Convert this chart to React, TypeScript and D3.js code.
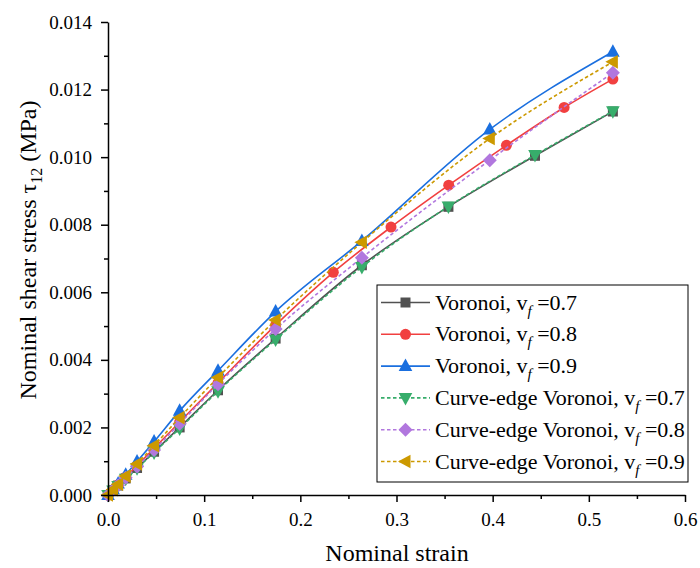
import React, { useEffect, useRef } from "react";
import * as d3 from "d3";

// Strain values (x) for each series
const strainV07 = [0, 0.00525, 0.0105, 0.0184, 0.0302, 0.0479, 0.0745, 0.1144, 0.1743, 0.264, 0.354, 0.444, 0.525];
const strainV08 = [0, 0.00525, 0.0105, 0.0184, 0.0302, 0.0479, 0.0745, 0.1144, 0.1743, 0.2343, 0.2943, 0.3543, 0.4143, 0.4743, 0.525];
const strainV09 = [0, 0.00525, 0.0105, 0.0184, 0.0302, 0.0479, 0.0745, 0.1144, 0.1743, 0.264, 0.397, 0.525];

// Stress values (y, MPa)
const voronoi07 = [0, 0.00014, 0.00028, 0.00049, 0.0008, 0.00128, 0.002, 0.0031, 0.00463, 0.0068, 0.00853, 0.01004, 0.01135];
const voronoi08 = [0, 0.00015, 0.0003, 0.00053, 0.00087, 0.00138, 0.00216, 0.00332, 0.00503, 0.00659, 0.00793, 0.00917, 0.01035, 0.01147, 0.01231];
const voronoi09 = [0, 0.00017, 0.00034, 0.0006, 0.00099, 0.00158, 0.00249, 0.00368, 0.00543, 0.00752, 0.01082, 0.01312];
const curve07 = [0, 0.00013, 0.00027, 0.00048, 0.00079, 0.00126, 0.00197, 0.00307, 0.0046, 0.00675, 0.00854, 0.01006, 0.01136];
const curve08 = [0, 0.00015, 0.00029, 0.00051, 0.00084, 0.00133, 0.00211, 0.00328, 0.00491, 0.00702, 0.00991, 0.0125];
const curve09 = [0, 0.00016, 0.00032, 0.00056, 0.00092, 0.00146, 0.00229, 0.00348, 0.00518, 0.00748, 0.01055, 0.01282];

const seriesNames = ["Voronoi, v", "Voronoi, v", "Voronoi, v", "Curve-edge Voronoi, v", "Curve-edge Voronoi, v", "Curve-edge Voronoi, v"];
const seriesFractions = ["0.7", "0.8", "0.9", "0.7", "0.8", "0.9"];
const seriesColors = ["#515151", "#F14040", "#1A6FDF", "#37AD6B", "#B177DE", "#CC9900"];
const seriesMarkers = ["square", "circle", "triUp", "triDown", "diamond", "triLeft"];
const seriesDashed = [false, false, false, true, true, true];

const xTicks = [0, 0.1, 0.2, 0.3, 0.4, 0.5, 0.6];
const xMinorTicks = [0.05, 0.15, 0.25, 0.35, 0.45, 0.55];
const yTicks = [0, 0.002, 0.004, 0.006, 0.008, 0.01, 0.012, 0.014];
const yMinorTicks = [0.001, 0.003, 0.005, 0.007, 0.009, 0.011, 0.013];

const FONT = "'Liberation Serif', 'Times New Roman', serif";

function markerPath(type: string): string | null {
  switch (type) {
    case "square":
      return "M-5,-5L5,-5L5,5L-5,5Z";
    case "triUp":
      return "M0,-7.5L6.8,5L-6.8,5Z";
    case "triDown":
      return "M0,7.5L6.8,-5L-6.8,-5Z";
    case "triLeft":
      return "M-7.5,0L5,-6.8L5,6.8Z";
    case "diamond":
      return "M0,-7L7,0L0,7L-7,0Z";
    default:
      return null;
  }
}

export default function App() {
  const ref = useRef<SVGSVGElement | null>(null);

  useEffect(() => {
    const svg = d3.select(ref.current);
    svg.selectAll("*").remove();

    const x = d3.scaleLinear().domain([0, 0.6]).range([108, 685]);
    const y = d3.scaleLinear().domain([0, 0.014]).range([495, 22]);

    const xs = [strainV07, strainV08, strainV09, strainV07, strainV09, strainV09];
    const ys = [voronoi07, voronoi08, voronoi09, curve07, curve08, curve09];

    const line = d3
      .line<[number, number]>()
      .x((d) => x(d[0]))
      .y((d) => y(d[1]))
      .curve(d3.curveMonotoneX);

    const plot = svg.append("g");
    ys.forEach((yv, i) => {
      const pts: [number, number][] = yv.map((v, k) => [xs[i][k], v]);
      const g = plot.append("g");
      g.append("path")
        .attr("d", line(pts) as string)
        .attr("fill", "none")
        .attr("stroke", seriesColors[i])
        .attr("stroke-width", 1.6)
        .attr("stroke-dasharray", seriesDashed[i] ? "3.5,2.5" : null);
      pts.forEach((p) => {
        const type = seriesMarkers[i];
        const mp = markerPath(type);
        if (mp) {
          g.append("path")
            .attr("d", mp)
            .attr("transform", `translate(${x(p[0])},${y(p[1])})`)
            .attr("fill", seriesColors[i]);
        } else {
          g.append("circle")
            .attr("cx", x(p[0]))
            .attr("cy", y(p[1]))
            .attr("r", 5.5)
            .attr("fill", seriesColors[i]);
        }
      });
    });

    // Axes
    const xAxis = svg
      .append("g")
      .attr("transform", "translate(0,495)")
      .call(
        d3
          .axisBottom(x)
          .tickValues(xTicks)
          .tickSize(7)
          .tickSizeOuter(0)
          .tickPadding(11)
          .tickFormat(d3.format(".1f") as any)
      );
    xAxis.select(".domain").attr("stroke", "#000").attr("stroke-width", 1.5);
    xAxis.selectAll(".tick line").attr("stroke", "#000").attr("stroke-width", 1.5);
    xAxis.selectAll("text").attr("font-family", FONT).attr("font-size", 19).attr("fill", "#000");
    svg
      .append("g")
      .attr("transform", "translate(0,495)")
      .call(d3.axisBottom(x).tickValues(xMinorTicks).tickSize(4).tickFormat(() => ""))
      .call((g) => g.select(".domain").remove())
      .selectAll("line")
      .attr("stroke", "#000")
      .attr("stroke-width", 1.5);

    const yAxis = svg
      .append("g")
      .attr("transform", "translate(108,0)")
      .call(
        d3
          .axisLeft(y)
          .tickValues(yTicks)
          .tickSize(7)
          .tickSizeOuter(0)
          .tickPadding(9)
          .tickFormat(d3.format(".3f") as any)
      );
    yAxis.select(".domain").attr("stroke", "#000").attr("stroke-width", 1.5);
    yAxis.selectAll(".tick line").attr("stroke", "#000").attr("stroke-width", 1.5);
    yAxis.selectAll("text").attr("font-family", FONT).attr("font-size", 19).attr("fill", "#000");
    svg
      .append("g")
      .attr("transform", "translate(108,0)")
      .call(d3.axisLeft(y).tickValues(yMinorTicks).tickSize(4).tickFormat(() => ""))
      .call((g) => g.select(".domain").remove())
      .selectAll("line")
      .attr("stroke", "#000")
      .attr("stroke-width", 1.5);

    // Axis titles
    svg
      .append("text")
      .attr("x", 397)
      .attr("y", 561)
      .attr("text-anchor", "middle")
      .attr("font-family", FONT)
      .attr("font-size", 24)
      .text("Nominal strain");

    const yt = svg
      .append("text")
      .attr("transform", "translate(36,250) rotate(-90)")
      .attr("text-anchor", "middle")
      .attr("font-family", FONT)
      .attr("font-size", 24);
    yt.append("tspan").text("Nominal shear stress \u03C4");
    yt.append("tspan").attr("font-size", 16).attr("dy", 6).text("12");
    yt.append("tspan").attr("dy", -6).text(" (MPa)");

    // Legend
    const lg = svg.append("g");
    lg.append("rect")
      .attr("x", 377)
      .attr("y", 285)
      .attr("width", 311)
      .attr("height", 197)
      .attr("fill", "#fff")
      .attr("stroke", "#000")
      .attr("stroke-width", 1);
    seriesNames.forEach((name, i) => {
      const cy = 302.5 + i * 31.8;
      lg.append("line")
        .attr("x1", 381)
        .attr("x2", 430)
        .attr("y1", cy)
        .attr("y2", cy)
        .attr("stroke", seriesColors[i])
        .attr("stroke-width", 1.6)
        .attr("stroke-dasharray", seriesDashed[i] ? "3.5,2.5" : null);
      const mp = markerPath(seriesMarkers[i]);
      if (mp) {
        lg.append("path").attr("d", mp).attr("transform", `translate(405.5,${cy})`).attr("fill", seriesColors[i]);
      } else {
        lg.append("circle").attr("cx", 405.5).attr("cy", cy).attr("r", 5.5).attr("fill", seriesColors[i]);
      }
      const t = lg
        .append("text")
        .attr("x", 435)
        .attr("y", cy + 7)
        .attr("font-family", FONT)
        .attr("font-size", 22)
        .attr("fill", "#000");
      t.append("tspan").text(name);
      t.append("tspan").attr("font-style", "italic").attr("font-size", 15).attr("dy", 6).text("f");
      t.append("tspan").attr("dy", -6).text(" =" + seriesFractions[i]);
    });
  }, []);

  return (
    <svg
      ref={ref}
      width={700}
      height={568}
      style={{ position: "absolute", left: 0, top: 0, background: "#fff" }}
    />
  );
}
